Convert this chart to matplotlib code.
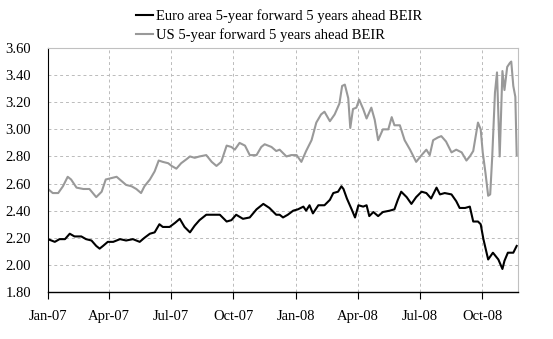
import matplotlib
matplotlib.use("Agg")
import matplotlib.pyplot as plt
import pandas as pd

euro_dates = [
    "2007-01-01", "2007-01-11", "2007-01-18", "2007-01-26", "2007-02-02", "2007-02-09", "2007-02-19", "2007-02-26",
    "2007-03-06", "2007-03-13", "2007-03-18", "2007-03-23", "2007-03-30", "2007-04-07", "2007-04-17", "2007-04-26",
    "2007-05-06", "2007-05-16", "2007-05-23", "2007-05-31", "2007-06-07", "2007-06-14", "2007-06-19", "2007-06-29",
    "2007-07-07", "2007-07-14", "2007-07-21", "2007-07-29", "2007-08-05", "2007-08-12", "2007-08-22", "2007-09-01",
    "2007-09-11", "2007-09-21", "2007-09-28", "2007-10-05", "2007-10-15", "2007-10-25", "2007-11-04", "2007-11-14",
    "2007-11-23", "2007-12-03",
    "2007-12-08", "2007-12-13", "2007-12-20", "2007-12-28", "2008-01-04", "2008-01-12", "2008-01-16", "2008-01-21",
    "2008-01-26", "2008-02-03", "2008-02-12", "2008-02-20", "2008-02-25", "2008-03-03", "2008-03-08", "2008-03-11",
    "2008-03-16", "2008-03-23", "2008-03-28", "2008-04-02", "2008-04-09", "2008-04-14", "2008-04-18", "2008-04-24",
    "2008-05-01", "2008-05-08", "2008-05-18", "2008-05-25", "2008-05-30", "2008-06-04", "2008-06-12", "2008-06-19",
    "2008-06-26", "2008-07-04", "2008-07-11", "2008-07-18", "2008-07-26", "2008-07-31", "2008-08-07", "2008-08-17",
    "2008-08-24", "2008-08-29", "2008-09-06", "2008-09-13", "2008-09-18", "2008-09-25", "2008-09-29", "2008-10-03",
    "2008-10-10", "2008-10-17", "2008-10-25", "2008-10-31", "2008-11-03", "2008-11-08", "2008-11-16", "2008-11-21",
]
euro_values = [
    2.19, 2.17, 2.19, 2.19, 2.23, 2.21, 2.21, 2.19, 2.18, 2.14, 2.12, 2.14, 2.17, 2.17, 2.19, 2.18,
    2.19, 2.17, 2.20, 2.23, 2.24, 2.30, 2.28, 2.28, 2.31, 2.34, 2.28, 2.24, 2.29, 2.33, 2.37, 2.37,
    2.37, 2.32, 2.33, 2.37, 2.34, 2.35, 2.41, 2.45, 2.42, 2.37,
    2.37, 2.35, 2.37, 2.40, 2.41, 2.43, 2.40, 2.44, 2.38, 2.44, 2.44, 2.48, 2.53, 2.54, 2.58, 2.56,
    2.49, 2.41, 2.35, 2.44, 2.43, 2.44, 2.36, 2.39, 2.36, 2.39, 2.40, 2.41, 2.48, 2.54, 2.50, 2.45,
    2.50, 2.54, 2.53, 2.49, 2.57, 2.52, 2.53, 2.52, 2.47, 2.42, 2.42, 2.43, 2.32, 2.32, 2.30, 2.19,
    2.04, 2.09, 2.04, 1.97, 2.03, 2.09, 2.09, 2.14,
]

us_dates = [
    "2007-01-01", "2007-01-08", "2007-01-16", "2007-01-23", "2007-01-30", "2007-02-04", "2007-02-12", "2007-02-22",
    "2007-03-03", "2007-03-13", "2007-03-21", "2007-03-27", "2007-04-04", "2007-04-12", "2007-04-19", "2007-04-26",
    "2007-05-04", "2007-05-11", "2007-05-18", "2007-05-23", "2007-05-31", "2007-06-07", "2007-06-13", "2007-06-19",
    "2007-06-27", "2007-07-02", "2007-07-09", "2007-07-16", "2007-07-24", "2007-07-29", "2007-08-05", "2007-08-12",
    "2007-08-22", "2007-08-30", "2007-09-06", "2007-09-13", "2007-09-21", "2007-09-28", "2007-10-03", "2007-10-10",
    "2007-10-18", "2007-10-25", "2007-11-04", "2007-11-11", "2007-11-16", "2007-11-26", "2007-12-03",
    "2007-12-08", "2007-12-18", "2007-12-25", "2008-01-02", "2008-01-09", "2008-01-16", "2008-01-24", "2008-01-31",
    "2008-02-07", "2008-02-12", "2008-02-20", "2008-02-27", "2008-03-05", "2008-03-09", "2008-03-13", "2008-03-18",
    "2008-03-21", "2008-03-25", "2008-03-30", "2008-04-03", "2008-04-09", "2008-04-14", "2008-04-21", "2008-04-26",
    "2008-05-01", "2008-05-08", "2008-05-16", "2008-05-21", "2008-05-25", "2008-06-02", "2008-06-09", "2008-06-17",
    "2008-06-26", "2008-07-04", "2008-07-11", "2008-07-16", "2008-07-21", "2008-07-28", "2008-08-02", "2008-08-09",
    "2008-08-17", "2008-08-24", "2008-09-01", "2008-09-08", "2008-09-13", "2008-09-18", "2008-09-22", "2008-09-25",
    "2008-09-29", "2008-10-02", "2008-10-06", "2008-10-10", "2008-10-13", "2008-10-16", "2008-10-20", "2008-10-23",
    "2008-10-27", "2008-10-31", "2008-11-03", "2008-11-07", "2008-11-11", "2008-11-13", "2008-11-16", "2008-11-19",
    "2008-11-21",
]
us_values = [
    2.56, 2.53, 2.53, 2.58, 2.65, 2.63, 2.57, 2.56, 2.56, 2.50, 2.54, 2.63, 2.64, 2.65, 2.62, 2.59,
    2.58, 2.56, 2.53, 2.58, 2.63, 2.69, 2.77, 2.76, 2.75, 2.73, 2.71, 2.75, 2.78, 2.80, 2.79, 2.80,
    2.81, 2.76, 2.73, 2.76, 2.88, 2.87, 2.85, 2.90, 2.88, 2.81, 2.81, 2.87, 2.89, 2.87, 2.84,
    2.85, 2.80, 2.81, 2.81, 2.76, 2.84, 2.92, 3.05, 3.11, 3.13, 3.06, 3.11, 3.19, 3.32, 3.33, 3.23,
    3.01, 3.15, 3.16, 3.22, 3.15, 3.08, 3.16, 3.07, 2.92, 3.00, 3.00, 3.09, 3.03, 3.03, 2.92, 2.85,
    2.76, 2.81, 2.85, 2.81, 2.92, 2.94, 2.95, 2.91, 2.83, 2.85, 2.83, 2.77, 2.80, 2.84, 2.96, 3.05,
    3.00, 2.83, 2.68, 2.51, 2.52, 2.80, 3.27, 3.42, 2.80, 3.43, 3.29, 3.46, 3.49, 3.50, 3.32, 3.24,
    2.81,
]

tick_dates = ["2007-01-01", "2007-04-01", "2007-07-01", "2007-10-01",
              "2008-01-01", "2008-04-01", "2008-07-01", "2008-10-01"]
tick_labels = ["Jan-07", "Apr-07", "Jul-07", "Oct-07", "Jan-08", "Apr-08", "Jul-08", "Oct-08"]
y_ticks = [1.80, 2.00, 2.20, 2.40, 2.60, 2.80, 3.00, 3.20, 3.40, 3.60]

euro_label = "Euro area 5-year forward 5 years ahead BEIR"
us_label = "US 5-year forward 5 years ahead BEIR"

plt.rcParams['font.family'] = ['Liberation Serif', 'DejaVu Serif']

fig = plt.figure(figsize=(5.53, 3.39), dpi=100)
ax = fig.add_axes([0.0868, 0.1386, 0.85, 0.7198])

ed = pd.to_datetime(euro_dates)
ud = pd.to_datetime(us_dates)
l1, = ax.plot(ed, euro_values, color="black", lw=1.5, label=euro_label)
l2, = ax.plot(ud, us_values, color="#999999", lw=1.5, label=us_label)

ax.set_ylim(1.80, 3.60)
ax.set_yticks(y_ticks)
ax.set_yticklabels([f"{v:.2f}" for v in y_ticks], fontsize=10.5)
ax.set_xlim(pd.Timestamp("2007-01-01"), pd.Timestamp("2008-11-23"))
ax.set_xticks(pd.to_datetime(tick_dates))
ax.set_xticklabels(tick_labels, fontsize=10.5)

ax.grid(True, color="#bbbbbb", linestyle=(0, (3, 3)), linewidth=0.7)
ax.set_axisbelow(True)
ax.tick_params(axis='y', length=0, pad=12)
ax.tick_params(axis='x', length=5, width=0.8, direction='out', pad=8, color='black')

for s in ['top', 'right']:
    ax.spines[s].set_color('#c0c0c0')
    ax.spines[s].set_linewidth(0.8)
ax.spines['left'].set_color('black')
ax.spines['bottom'].set_color('black')
ax.spines['left'].set_linewidth(0.8)
ax.spines['bottom'].set_linewidth(1.0)

fig.legend(handles=[l1, l2], loc='upper left', bbox_to_anchor=(0.228, 1.0),
           frameon=False, fontsize=10.5, handlelength=1.2, handletextpad=0.2,
           labelspacing=0.35, borderaxespad=0.25)

fig.savefig("out.png", dpi=100)
